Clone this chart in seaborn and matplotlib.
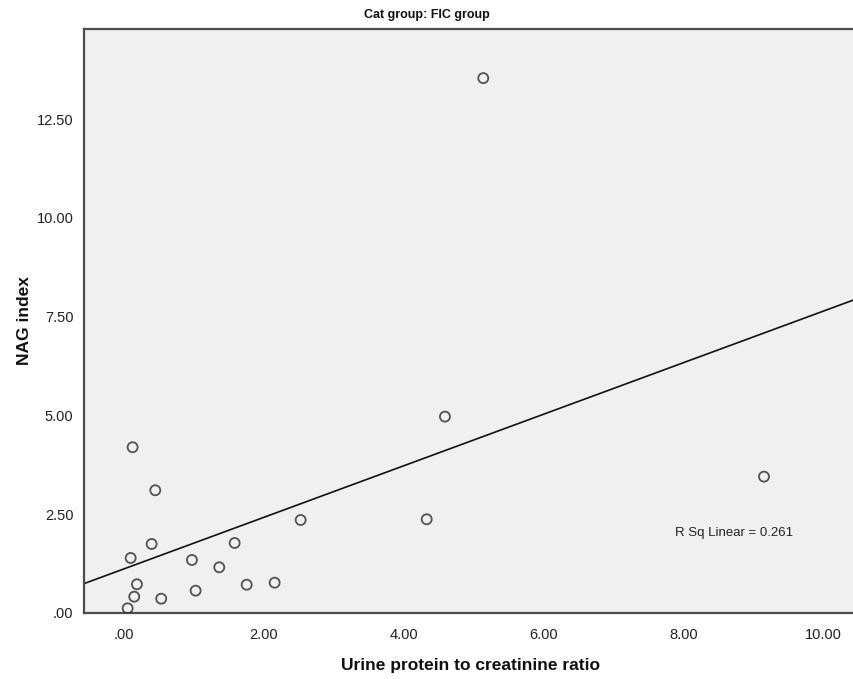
import matplotlib
matplotlib.use("Agg")
import matplotlib.pyplot as plt
import seaborn as sns
import pandas as pd

# Data
upc_ratio = [0.124, 0.448, 2.527, 0.396, 1.583, 0.096, 0.972, 1.363, 0.186, 1.755,
             2.155, 0.147, 1.025, 0.533, 0.053, 4.590, 4.329, 5.138, 9.152]
nag_index = [4.195, 3.106, 2.354, 1.747, 1.772, 1.392, 1.342, 1.157, 0.727, 0.716,
             0.767, 0.413, 0.565, 0.362, 0.119, 4.970, 2.372, 13.537, 3.451]
x_ticks = [0, 2, 4, 6, 8, 10]
x_tick_labels = [".00", "2.00", "4.00", "6.00", "8.00", "10.00"]
y_ticks = [0, 2.5, 5, 7.5, 10, 12.5]
y_tick_labels = [".00", "2.50", "5.00", "7.50", "10.00", "12.50"]
title = "Cat group: FIC group"
x_label = "Urine protein to creatinine ratio"
y_label = "NAG index"
r2_text = "R Sq Linear = 0.261"

df = pd.DataFrame({"upc": upc_ratio, "nag": nag_index})

sns.set_style("white")
plt.rcParams["font.family"] = ["Liberation Sans", "DejaVu Sans"]

fig = plt.figure(figsize=(8.54, 6.79), dpi=100)
ax = fig.add_axes([84.5 / 854, 66 / 679, (857 - 84.5) / 854, 584 / 679])
ax.set_facecolor("#F0F0F0")
ax.set_xlim(-0.564, 10.482)
ax.set_ylim(0, 14.78)
ax.set_autoscale_on(False)

sns.regplot(data=df, x="upc", y="nag", ax=ax, ci=None, truncate=False,
            scatter_kws=dict(s=52, facecolors="none", edgecolors="#2a2a2a",
                             linewidths=1.3, zorder=3),
            line_kws=dict(color="#111111", lw=1.2, zorder=2))

ax.set_xticks(x_ticks)
ax.set_xticklabels(x_tick_labels)
ax.set_yticks(y_ticks)
ax.set_yticklabels(y_tick_labels)
ax.tick_params(axis="both", direction="out", length=6.5, width=1.1,
               color="#444444", labelsize=10.5, labelcolor="#222222", pad=1.5)
ax.tick_params(axis="x", pad=4)

for side, sp in ax.spines.items():
    sp.set_color("#4d4d4d")
    sp.set_linewidth(1.6)
    sp.set_visible(True)

ax.set_xlabel(x_label, fontsize=12.5, fontweight="bold", labelpad=12, color="#111111")
ax.set_ylabel(y_label, fontsize=12.5, fontweight="bold", labelpad=3, color="#111111")

ax.text(7.88, 2.03, r2_text, fontsize=9.5, va="center", ha="left", color="#222222")

fig.text(0.5, 1 - 15 / 679, title, fontsize=9, fontweight="bold",
         ha="center", va="center", color="#111111")

fig.savefig("out.png", dpi=100, facecolor="white")
